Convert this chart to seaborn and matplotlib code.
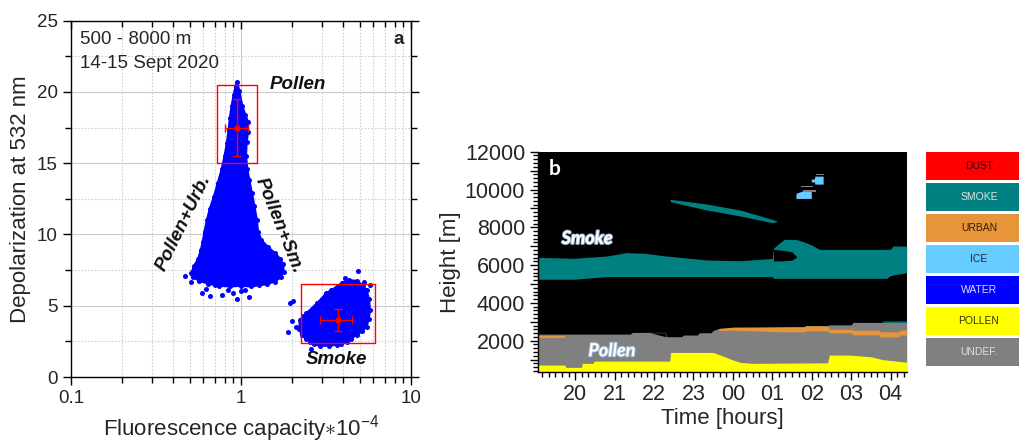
import numpy as np
import pandas as pd
import matplotlib
matplotlib.use("Agg")
import matplotlib.pyplot as plt
import matplotlib.lines as mlines
import matplotlib.patheffects as pe
from matplotlib.ticker import (MultipleLocator, FixedLocator, FixedFormatter,
                               FuncFormatter, NullFormatter, LogLocator)
import seaborn as sns

sns.set_style("ticks")
plt.rcParams["font.family"] = ["Liberation Sans", "DejaVu Sans"]
plt.rcParams["mathtext.fontset"] = "custom"
plt.rcParams["mathtext.rm"] = "Liberation Sans"
plt.rcParams["mathtext.it"] = "Liberation Sans:italic"
plt.rcParams["mathtext.bf"] = "Liberation Sans:bold"
plt.rcParams["mathtext.fallback"] = "cm"

# ---------------- panel a: depolarization vs fluorescence capacity ----------------
# outline of the dense pollen cloud (fluorescence capacity, depolarization %)
pollen_cloud_fc = [0.951, 0.975, 1.02, 1.06, 1.10, 1.10, 1.08, 1.07, 1.09, 1.12, 1.16,
                   1.20, 1.24, 1.26, 1.32, 1.45, 1.58, 1.70, 1.77, 1.78, 1.72, 1.58,
                   1.42, 1.28, 1.15, 1.00, 0.86, 0.74, 0.64, 0.57, 0.52, 0.51, 0.53,
                   0.56, 0.58, 0.595, 0.61, 0.63, 0.655, 0.69, 0.73, 0.77, 0.80, 0.825,
                   0.845, 0.86, 0.88, 0.905, 0.93]
pollen_cloud_dep = [20.7, 20.1, 19.0, 18.4, 17.9, 17.2, 16.5, 15.5, 14.6, 13.8, 12.9,
                    12.0, 11.0, 10.2, 9.6, 9.1, 8.7, 8.3, 7.9, 7.4, 7.0, 6.7,
                    6.5, 6.45, 6.35, 6.4, 6.35, 6.4, 6.55, 6.75, 7.0, 7.3, 7.8,
                    8.3, 8.9, 9.5, 10.2, 11.0, 11.8, 12.6, 13.6, 14.6, 15.5, 16.4,
                    17.3, 18.2, 19.0, 19.8, 20.4]
# isolated pollen-side measurements below the cloud
pollen_stray_fc = [0.468, 0.587, 0.656, 0.77, 0.842, 0.945, 1.05, 1.12, 0.90, 0.70,
                   0.575, 0.51, 1.0, 0.62]
pollen_stray_dep = [7.1, 5.89, 5.65, 5.77, 6.12, 5.47, 6.12, 5.6, 5.89, 6.47,
                    6.78, 6.64, 6.0, 6.2]

# outline of the smoke cloud
smoke_cloud_fc = [2.22, 2.32, 2.42, 2.6, 2.79, 2.98, 3.16, 3.4, 3.66, 3.91, 4.3, 4.79,
                  5.2, 5.48, 5.65, 5.74, 5.65, 5.48, 5.15, 4.79, 4.45, 4.19, 3.9,
                  3.66, 3.3, 2.92, 2.7, 2.56, 2.4, 2.27, 2.2]
smoke_cloud_dep = [4.0, 4.25, 4.47, 4.8, 5.17, 5.5, 5.87, 6.1, 6.34, 6.6, 6.8, 6.75,
                   6.45, 6.1, 5.5, 4.7, 4.1, 3.53, 3.2, 2.95, 2.7, 2.48, 2.35,
                   2.25, 2.2, 2.18, 2.3, 2.48, 2.7, 2.95, 3.4]
smoke_stray_fc = [1.90, 1.94, 2.03, 2.10, 4.9, 2.58, 5.74, 4.1, 5.3, 2.0]
smoke_stray_dep = [3.18, 5.17, 5.3, 3.5, 7.44, 1.94, 6.46, 6.95, 6.7, 3.9]

# class means with standard deviations
pollen_mean = (0.95, 17.5)
pollen_err = (0.15, 2.0)
smoke_mean = (3.7, 4.0)
smoke_err = (0.77, 0.8)
# selection boxes: fc_min, fc_max, dep_min, dep_max
pollen_box = (0.72, 1.25, 15.0, 20.5)
smoke_box = (2.25, 6.15, 2.4, 6.5)

# ---------------- panel b: aerosol classification vs time/height ----------------
hour_ticks = [20, 21, 22, 23, 24, 25, 26, 27, 28]
hour_labels = ["20", "21", "22", "23", "00", "01", "02", "03", "04"]

undef_t = [19.05, 21.40, 21.45, 22.30, 22.32, 22.70, 22.75, 23.10, 23.15, 23.45,
           23.50, 23.65, 25.80, 25.85, 26.40, 26.45, 27.00, 27.05, 28.41]
undef_top = [2350, 2350, 2440, 2440, 2210, 2210, 2300, 2300, 2420, 2420,
             2540, 2650, 2740, 2790, 2790, 2840, 2840, 2970, 2970]

pollen_t = [19.05, 19.74, 19.76, 20.16, 20.18, 20.46, 20.48, 22.40, 22.42, 23.50,
            23.80, 24.00, 24.20, 24.50, 26.40, 26.45, 26.95, 27.50, 27.80, 28.10, 28.41]
pollen_top = [710, 710, 590, 590, 800, 800, 920, 920, 1380, 1380,
              1150, 980, 850, 800, 830, 1240, 1240, 1150, 1000, 930, 860]

urban_t = [23.65, 24.00, 25.20, 25.80, 25.85, 26.40, 26.45, 27.00, 27.05, 27.70,
           27.75, 28.20, 28.25, 28.41]
urban_bottom = [2540, 2560, 2470, 2470, 2525, 2525, 2420, 2420, 2310, 2310,
                2200, 2200, 2300, 2300]
urban_top = [2650, 2720, 2735, 2735, 2790, 2790, 2600, 2600, 2560, 2560,
             2470, 2470, 2560, 2560]
urban_early_t = [19.06, 19.74]
urban_early_bottom = [2150, 2150]
urban_early_top = [2260, 2260]

gap_t = [21.90, 22.30]
gap_bottom = [2420, 2210]
gap_top = [2420, 2420]

smoke_t = [19.05, 19.96, 20.80, 21.30, 21.80, 22.30, 22.66, 23.34, 24.18, 25.00,
           25.03, 25.20, 25.30, 25.60, 25.80, 26.00, 26.20, 27.90, 28.00, 28.06, 28.41]
smoke_bottom = [5250, 5250, 5390, 5390, 5390, 5390, 5390, 5390, 5390, 5390,
                5300, 5300, 5300, 5300, 5300, 5300, 5300, 5300, 5450, 5470, 5600]
smoke_top = [6410, 6360, 6480, 6660, 6620, 6480, 6410, 6270, 6230, 6350,
             6890, 7200, 7360, 7360, 7230, 7060, 6830, 6830, 6830, 7010, 7010]
smoke_gap_t = [25.03, 25.20, 25.50, 25.62]
smoke_gap_bottom = [6220, 6220, 6260, 6420]
smoke_gap_top = [6830, 6800, 6700, 6440]

plume_t = [22.41, 22.90, 23.34, 24.18, 25.00, 25.11]
plume_bottom = [9360, 9120, 8915, 8600, 8245, 8300]
plume_top = [9480, 9350, 9230, 8915, 8420, 8350]

smoke_thin_t = [27.80, 28.41]
smoke_thin_bottom = [2970, 2970]
smoke_thin_top = [3040, 3050]

ice_upper_t = [25.99, 26.07, 26.08, 26.29]
ice_upper_bottom = [10400, 10400, 10284, 10284]
ice_upper_top = [10550, 10560, 10707, 10707]
ice_lower_t = [25.60, 25.78, 25.99]
ice_lower_bottom = [9527, 9527, 9527]
ice_lower_top = [9800, 9930, 9930]

undef_cloud_t = [[25.72, 26.04], [25.78, 26.12], [26.10, 26.31]]
undef_cloud_bottom = [[10110, 10110], [9880, 9880], [10745, 10745]]
undef_cloud_top = [[10180, 10180], [10000, 10000], [10810, 10810]]

classes = ["DUST", "SMOKE", "URBAN", "ICE", "WATER", "POLLEN", "UNDEF."]
class_colors = ["#ff0000", "#008080", "#e6953a", "#66ccff", "#0000ff", "#ffff00", "#808080"]
class_text = ["#3a0000", "#e4e4e4", "#3a2000", "#1e2a36", "#dcdcff", "#333300", "#e0e0e0"]

BLUE = "#0000ff"
RED = "#ff0000"
BLACK = "#000000"

fig = plt.figure(figsize=(10.19, 4.45), dpi=100)
W, H = 1019.0, 445.0
ax_a = fig.add_axes([71 / W, 1 - 377 / H, 340 / W, 356.3 / H])
ax_b = fig.add_axes([537.7 / W, 1 - 371.7 / H, 369 / W, 220 / H])
ax_l = fig.add_axes([926 / W, 1 - 366 / H, 106 / W, 214.3 / H])

# ---- panel a ----
ax_a.set_xscale("log")
ax_a.set_xlim(0.1, 10)
ax_a.set_ylim(0, 25)
ax_a.set_axisbelow(True)
ax_a.xaxis.set_major_locator(FixedLocator([0.1, 1, 10]))
ax_a.xaxis.set_major_formatter(FixedFormatter(["0.1", "1", "10"]))
ax_a.xaxis.set_minor_locator(LogLocator(base=10, subs=np.arange(2, 10)))
ax_a.xaxis.set_minor_formatter(NullFormatter())
ax_a.yaxis.set_major_locator(MultipleLocator(5))
ax_a.yaxis.set_minor_locator(MultipleLocator(2.5))
ax_a.grid(which="major", color="#cccccc", lw=0.8, ls="-")
ax_a.grid(which="minor", color="#cfcfcf", lw=0.8, ls=(0, (1.5, 1.5)))

ax_a.fill(pollen_cloud_fc, pollen_cloud_dep, color=BLUE, lw=1.5, zorder=2)
ax_a.fill(smoke_cloud_fc, smoke_cloud_dep, color=BLUE, lw=1.5, zorder=2)
points = pd.DataFrame({
    "fc": pollen_cloud_fc + pollen_stray_fc + smoke_cloud_fc + smoke_stray_fc,
    "dep": pollen_cloud_dep + pollen_stray_dep + smoke_cloud_dep + smoke_stray_dep,
})
sns.scatterplot(data=points, x="fc", y="dep", ax=ax_a, color=BLUE, s=13,
                linewidth=0, zorder=3, legend=False)

for (x0, x1, y0, y1) in (pollen_box, smoke_box):
    ax_a.plot([x0, x1, x1, x0, x0], [y0, y0, y1, y1, y0], color=RED, lw=1.0, zorder=4)
for mean, err in ((pollen_mean, pollen_err), (smoke_mean, smoke_err)):
    ax_a.errorbar([mean[0]], [mean[1]], xerr=[err[0]], yerr=[err[1]], fmt="s",
                  color=RED, ms=3.5, elinewidth=1.0, capsize=3, capthick=1.0, zorder=5)

bi = dict(fontsize=13.5, fontweight="bold", fontstyle="italic", color="#111111")
ax_a.text(2.15, 20.5, "Pollen", ha="center", va="center", **bi)
ax_a.text(3.62, 1.2, "Smoke", ha="center", va="center", **bi)
ax_a.text(0.46, 10.8, "Pollen+Urb.", ha="center", va="center", rotation=64,
          rotation_mode="anchor", **bi)
ax_a.text(1.66, 10.6, "Pollen+Sm.", ha="center", va="center", rotation=-68,
          rotation_mode="anchor", **bi)
ax_a.text(0.025, 0.946, "500 - 8000 m", transform=ax_a.transAxes, ha="left",
          va="center", fontsize=13.5)
ax_a.text(0.025, 0.88, "14-15 Sept 2020", transform=ax_a.transAxes, ha="left",
          va="center", fontsize=13.5)
ax_a.text(0.963, 0.946, "a", transform=ax_a.transAxes, ha="center", va="center",
          fontsize=13.5, fontweight="bold")

ax_a.set_xlabel("Fluorescence capacity$\\ast$10$^{-4}$", fontsize=16, labelpad=4)
ax_a.set_ylabel("Depolarization at 532 nm", fontsize=16, labelpad=4)
ax_a.tick_params(which="both", direction="out", labelsize=13.5, right=True,
                 top=True, width=1.0, color=BLACK)
ax_a.tick_params(which="major", length=6)
ax_a.tick_params(which="minor", length=4)
for s in ax_a.spines.values():
    s.set_color(BLACK)
    s.set_linewidth(1.0)
# top-edge ticks point into the plot
for tick in ax_a.xaxis.get_major_ticks() + ax_a.xaxis.get_minor_ticks(24):
    tick.tick2line.set_marker(mlines.TICKDOWN)

# ---- panel b ----
ax_b.set_facecolor(BLACK)
fb = dict(lw=0, antialiased=True)
ax_b.fill_between(undef_t, 0, undef_top, color=class_colors[6], **fb)
ax_b.fill_between(pollen_t, 0, pollen_top, color=class_colors[5], **fb)
ax_b.fill_between(urban_t, urban_bottom, urban_top, color=class_colors[2], **fb)
ax_b.fill_between(urban_early_t, urban_early_bottom, urban_early_top, color=class_colors[2], **fb)
ax_b.fill_between(gap_t, gap_bottom, gap_top, color=BLACK, **fb)
ax_b.fill_between(smoke_t, smoke_bottom, smoke_top, color=class_colors[1], **fb)
ax_b.fill_between(smoke_gap_t, smoke_gap_bottom, smoke_gap_top, color=BLACK, **fb)
ax_b.fill_between(plume_t, plume_bottom, plume_top, color=class_colors[1], **fb)
ax_b.fill_between(smoke_thin_t, smoke_thin_bottom, smoke_thin_top, color=class_colors[1], **fb)
ax_b.fill_between(ice_upper_t, ice_upper_bottom, ice_upper_top, color=class_colors[3], **fb)
ax_b.fill_between(ice_lower_t, ice_lower_bottom, ice_lower_top, color=class_colors[3], **fb)
for t, b, tp in zip(undef_cloud_t, undef_cloud_bottom, undef_cloud_top):
    ax_b.fill_between(t, b, tp, color=class_colors[6], **fb)
ax_b.set_xlim(19.05, 28.41)
ax_b.set_ylim(360, 12000)

glow = [pe.withStroke(linewidth=1.4, foreground="#9db9d6")]
lbl = dict(family=["Lato", "DejaVu Sans"], fontweight="bold", color="white")
ax_b.text(20.3, 7415, "Smoke", ha="center", va="center", fontsize=13,
          fontstyle="italic", path_effects=glow, **lbl)
ax_b.text(20.93, 1470, "Pollen", ha="center", va="center", fontsize=13,
          fontstyle="italic", path_effects=glow, **lbl)
ax_b.text(19.49, 11067, "b", ha="center", va="center", fontsize=15, **lbl)

ax_b.xaxis.set_major_locator(FixedLocator(hour_ticks))
ax_b.xaxis.set_major_formatter(FixedFormatter(hour_labels))
ax_b.xaxis.set_minor_locator(MultipleLocator(1 / 6))
ax_b.yaxis.set_major_locator(MultipleLocator(1000))
ax_b.yaxis.set_major_formatter(
    FuncFormatter(lambda v, p: f"{int(round(v))}" if round(v) % 2000 == 0 else ""))
ax_b.yaxis.set_minor_locator(MultipleLocator(200))
ax_b.tick_params(which="both", direction="out", labelsize=15.5, width=1.0, color=BLACK)
ax_b.tick_params(which="major", length=6, pad=3)
ax_b.tick_params(which="minor", length=3.5)
ax_b.set_xlabel("Time [hours]", fontsize=16, labelpad=2)
ax_b.set_ylabel("Height [m]", fontsize=16, labelpad=3)
for side in ("top", "right"):
    ax_b.spines[side].set_visible(False)
for side in ("left", "bottom"):
    ax_b.spines[side].set_color(BLACK)
    ax_b.spines[side].set_linewidth(1.0)

# ---- class colour key ----
key_pos = np.arange(len(classes))
ax_l.barh(key_pos, [1.0] * len(classes), left=0, height=0.913, color=class_colors,
          linewidth=0)
for i, (name, tc) in enumerate(zip(classes, class_text)):
    ax_l.text(0.5, i, name, ha="center", va="center", fontsize=7.5, color=tc)
ax_l.set_xlim(0, 1)
ax_l.set_ylim(len(classes) - 1 + 0.4565, -0.4565)
ax_l.axis("off")

fig.savefig("out.png", dpi=100)
